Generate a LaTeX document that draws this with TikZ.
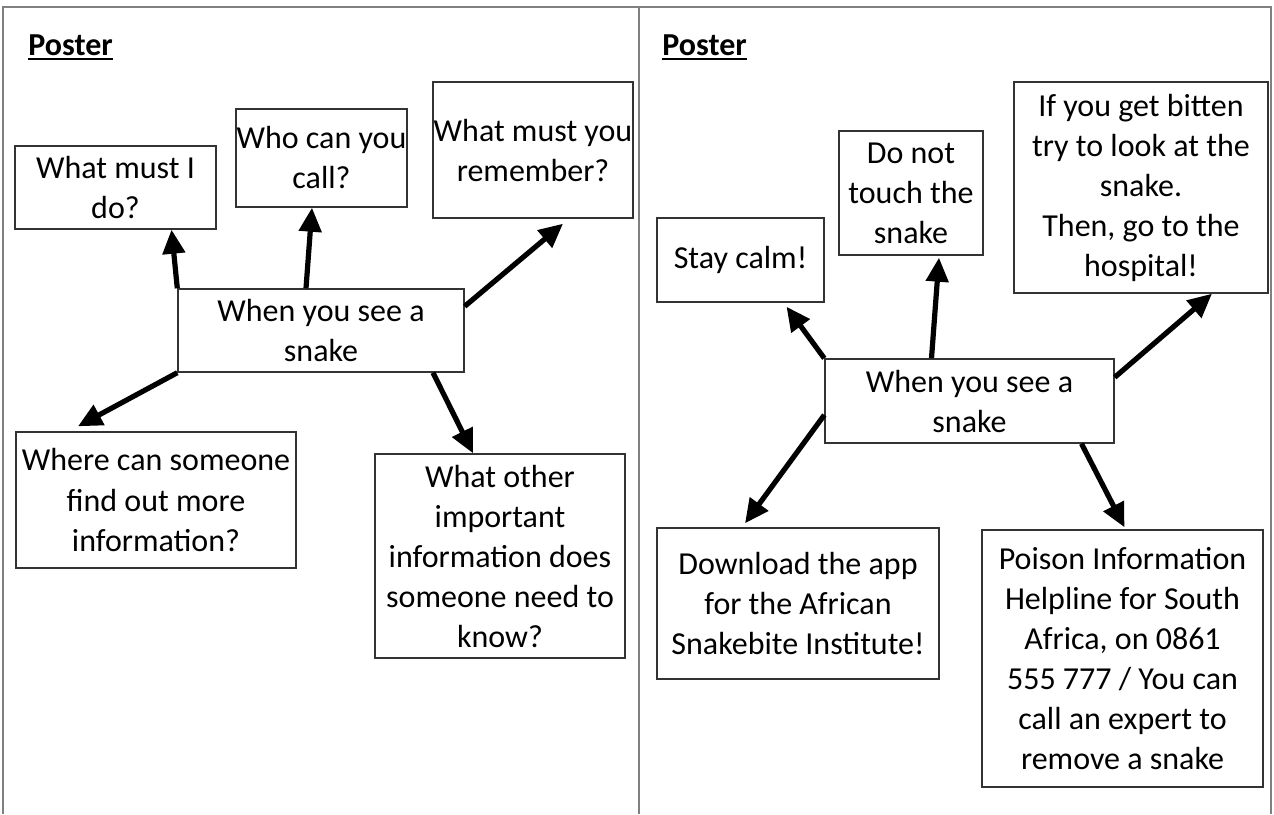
\documentclass[tikz,border=0pt]{standalone}
\usepackage{fontspec}
\setmainfont{Carlito}
\usetikzlibrary{arrows.meta}

\begin{document}
\begin{tikzpicture}[x=0.5pt,y=-0.5pt,
	box/.style={draw=black!80,line width=0.7pt,align=center,inner sep=0pt,
		font=\fontsize{16}{20}\selectfont},
	link/.style={line width=2.6pt,-{Triangle[length=12pt,width=11pt]}},
	title/.style={inner sep=0pt,anchor=base west,font=\fontsize{16}{20}\selectfont\bfseries}]
\useasboundingbox (0,0) rectangle (1274,814);
% frame
\draw[black!50,line width=0.8pt] (3,814) -- (3,7) -- (1271,7) -- (1271,814);
\draw[black!50,line width=0.8pt] (639,7) -- (639,814);

% left poster
\node[title] (posterL) at (28,55) {Poster};
\draw[line width=1pt] ([yshift=-1.8pt]posterL.base west) -- ([yshift=-1.8pt]posterL.base east);
\node[box,minimum width=143pt,minimum height=41.5pt] (ctrL) at (321,330.5) {When you see a\\snake};
\node[box,minimum width=100.5pt,minimum height=41.5pt] (doA) at (115.5,187.5) {What must I\\do?};
\node[box,minimum width=85.5pt,minimum height=49pt] (callB) at (321.5,158) {Who can you\\call?};
\node[box,minimum width=100pt,minimum height=68pt] (remC) at (533,150) {What must you\\remember?};
\node[box,minimum width=140pt,minimum height=68pt] (whereD) at (156,500) {Where can someone\\find out more\\information?};
\node[box,minimum width=125pt,minimum height=102pt] (otherE) at (500,556) {What other\\important\\information does\\someone need to\\know?};

\draw[link] (ctrL.north west) -- ([xshift=28pt]doA.south);
\draw[link] ([xshift=-7.5pt]ctrL.north) -- ([xshift=-4.75pt]callB.south);
\draw[link] ([yshift=-9pt]ctrL.north east) -- ([xshift=15pt,yshift=-2.5pt]remC.south);
\draw[link] (ctrL.south west) -- ([xshift=-39pt,yshift=2.5pt]whereD.north);
\draw[link] ([xshift=56pt]ctrL.south) -- ([xshift=-13.5pt]otherE.north);

% right poster
\node[title] (posterR) at (662,55) {Poster};
\draw[line width=1pt] ([yshift=-1.8pt]posterR.base west) -- ([yshift=-1.8pt]posterR.base east);
\node[box,minimum width=144.5pt,minimum height=42pt] (ctrR) at (969.5,401) {When you see a\\snake};
\node[box,minimum width=83.5pt,minimum height=42pt] (calmR) at (740.5,260) {Stay calm!};
\node[box,minimum width=72pt,minimum height=62pt] (touchR) at (911,193) {Do not\\touch the\\snake};
\node[box,minimum width=127pt,minimum height=105.5pt] (bittenR) at (1141,187.5) {If you get bitten\\try to look at the\\snake.\\Then, go to the\\hospital!};
\node[box,minimum width=141pt,minimum height=75.5pt] (appR) at (798,603.5) {Download the app\\for the African\\Snakebite Institute!};
\node[box,minimum width=140.5pt,minimum height=128.5pt] (poisonR) at (1122.5,658.5) {Poison Information\\Helpline for South\\Africa, on 0861\\555 777 / You can\\call an expert to\\remove a snake};

\draw[link] (ctrR.north west) -- ([xshift=23pt,yshift=-2pt]calmR.south);
\draw[link] ([xshift=-19pt]ctrR.north) -- ([xshift=14pt,yshift=-1pt]touchR.south);
\draw[link] ([yshift=-9.5pt]ctrR.north east) -- ([xshift=35.5pt]bittenR.south);
\draw[link] ([yshift=-7pt]ctrR.west) -- ([xshift=-26.5pt,yshift=2pt]appR.north);
\draw[link] ([xshift=56pt]ctrR.south) -- ([xshift=1pt,yshift=1pt]poisonR.north);
\end{tikzpicture}
\end{document}
